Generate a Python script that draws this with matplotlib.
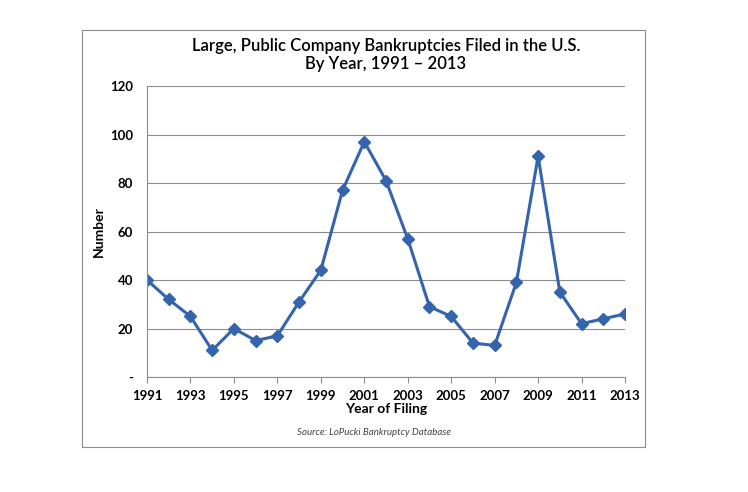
import matplotlib
matplotlib.use("Agg")
import matplotlib.pyplot as plt
from matplotlib.patches import Rectangle

plt.rcParams['font.family'] = ['Lato', 'DejaVu Sans']

years = list(range(1991, 2014))
counts = [40, 32, 25, 11, 20, 15, 17, 31, 44, 77, 97, 81, 57, 29, 25, 14, 13, 39, 91, 35, 22, 24, 26]
yticks = [0, 20, 40, 60, 80, 100, 120]
ylabels = ['-', '20', '40', '60', '80', '100', '120']

fig = plt.figure(figsize=(7.48, 4.92), dpi=100)
fig.patches.append(Rectangle((0.1096, 0.0915), 0.7527, 0.8475, transform=fig.transFigure,
                             fill=False, edgecolor='#8c8c8c', linewidth=0.8))
ax = fig.add_axes([0.1965, 0.2337, 0.6391, 0.5915])
ax.plot(years, counts, color='#3464ac', linewidth=2.2, marker='D', markersize=6.5)
ax.set_xlim(1991, 2013)
ax.set_ylim(0, 120)
ax.set_xticks(years[::2])
ax.set_xticklabels([str(y) for y in years[::2]], fontsize=9.5, fontweight='bold')
ax.set_yticks(yticks)
ax.set_yticklabels(ylabels, fontsize=9.5, fontweight='bold')
ax.grid(axis='y', color='#8c8c8c', linewidth=0.8)
for s in ['top', 'right']:
    ax.spines[s].set_visible(False)
ax.spines['left'].set_color('#8c8c8c')
ax.spines['bottom'].set_color('#8c8c8c')
ax.tick_params(axis='y', length=0, pad=10)
ax.tick_params(axis='x', length=4, color='#8c8c8c', pad=5)
ax.set_axisbelow(True)
ax.set_ylabel('Number', fontsize=10, fontweight='bold')
ax.set_xlabel('Year of Filing', fontsize=10, fontweight='bold', labelpad=1)
ax.set_title('Large, Public Company Bankruptcies Filed in the U.S.\nBy Year, 1991 \u2013 2013',
             fontsize=12, fontweight='semibold', pad=12)
fig.text(0.5, 0.115, 'Source: LoPucki Bankruptcy Database', fontsize=7, style='italic',
         ha='center', color='#444444')
fig.savefig('out.png', dpi=100)
